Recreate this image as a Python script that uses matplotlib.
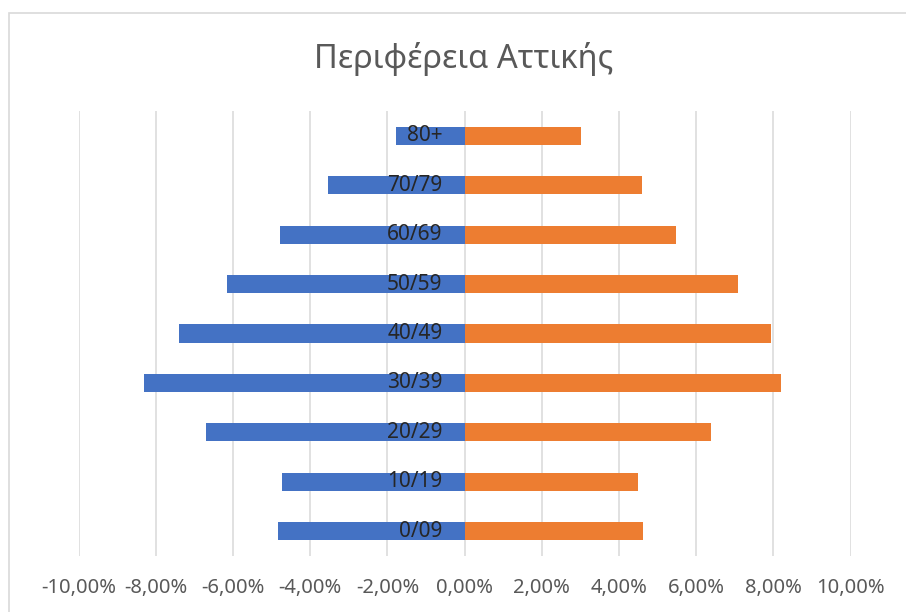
import matplotlib
matplotlib.use("Agg")
import matplotlib.pyplot as plt
import matplotlib.transforms as mtransforms
from matplotlib.patches import Rectangle
from matplotlib.ticker import FuncFormatter

# age groups, bottom to top
groups = ['0/09', '10/19', '20/29', '30/39', '40/49', '50/59', '60/69', '70/79', '80+']
# percent of population (left side drawn negative)
men = [4.84, 4.74, 6.69, 8.31, 7.40, 6.15, 4.78, 3.54, 1.79]
women = [4.62, 4.49, 6.38, 8.19, 7.94, 7.08, 5.48, 4.59, 3.02]
ticks = [-10, -8, -6, -4, -2, 0, 2, 4, 6, 8, 10]
title = 'Περιφέρεια Αττικής'

plt.rcParams['font.family'] = ['Noto Sans', 'DejaVu Sans']

fig = plt.figure(figsize=(9.06, 6.12), dpi=100)
ax = fig.add_axes([0.0868, 0.0915, 0.8521, 0.7271])

# chart border (only top and left fall inside the image)
fig.patches.append(Rectangle((8.5 / 906, -0.02), 1.0, (612 - 12.5) / 612 + 0.02,
                             transform=fig.transFigure, fill=False,
                             edgecolor='#d9d9d9', linewidth=1.2))

ypos = list(range(len(groups)))
ax.barh(ypos, [-m for m in men], height=0.365, color='#4472C4', zorder=2)
ax.barh(ypos, women, height=0.365, color='#ED7D31', zorder=2)

ax.set_xlim(-10, 10)
ax.set_ylim(-0.5, len(groups) - 0.5)
ax.set_xticks(ticks)
ax.xaxis.set_major_formatter(FuncFormatter(lambda v, p: ('%.2f%%' % v).replace('.', ',')))
ax.tick_params(axis='x', length=0, pad=16, labelsize=14.5, labelcolor='#595959')
ax.set_yticks([])
ax.grid(axis='x', color='#d9d9d9', linewidth=1.1, zorder=0)
for s in ax.spines.values():
    s.set_visible(False)

# group labels sit just left of the zero line
off = mtransforms.offset_copy(ax.transData, fig=fig, x=-22, y=0, units='dots')
for y, g in zip(ypos, groups):
    ax.text(0, y, g, transform=off, ha='right', va='center',
            fontsize=15, color='#262626', zorder=3)

fig.text(464 / 906, 1 - 59 / 612, title, ha='center', va='center',
         fontsize=23.5, color='#595959')

fig.savefig('out.png', dpi=100)
